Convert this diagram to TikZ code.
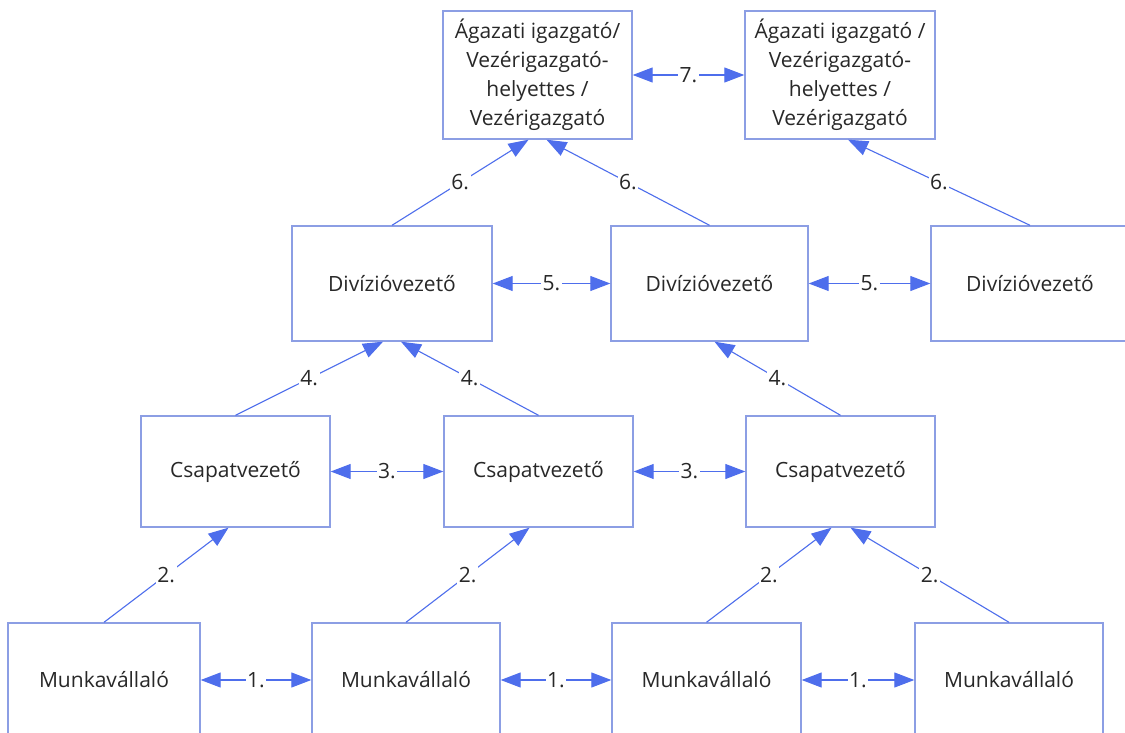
\documentclass[tikz,border=0pt]{standalone}
\usepackage{fontspec}
\setmainfont{Open Sans}
\usetikzlibrary{arrows.meta}
\definecolor{boxc}{RGB}{140,158,228}
\definecolor{arrc}{RGB}{78,110,236}
\definecolor{txt}{RGB}{40,40,40}
\begin{document}
\begin{tikzpicture}[x=1pt,y=-1pt,
  box/.style={draw=boxc, line width=1.4pt, rectangle, align=center, text=txt,
    font=\fontsize{21}{29}\selectfont, inner sep=0pt},
  conn/.style={draw=arrc, line width=1.1pt},
  lab/.style={fill=white, text=txt, inner sep=1.5pt, font=\fontsize{21}{24}\selectfont},
  >={Triangle[length=20pt,width=15pt]}]
\useasboundingbox (0,0) rectangle (1125,733);
\clip (0,0) rectangle (1125,733);
\fill[white] (0,0) rectangle (1125,733);
% top row
\node[box, minimum width=189pt, minimum height=128pt] (t1) at (537.5,75)
  {Ágazati igazgató/\\Vezérigazgató-\\helyettes /\\Vezérigazgató};
\node[box, minimum width=190pt, minimum height=128pt] (t2) at (840,75)
  {Ágazati igazgató /\\Vezérigazgató-\\helyettes /\\Vezérigazgató};
% division row
\node[box, minimum width=200pt, minimum height=115pt] (d1) at (392,283.5) {Divízióvezető};
\node[box, minimum width=197pt, minimum height=115pt] (d2) at (709.5,283.5) {Divízióvezető};
\node[box, minimum width=198pt, minimum height=115pt] (d3) at (1030,283.5) {Divízióvezető};
% team leader row
\node[box, minimum width=189pt, minimum height=111pt] (c1) at (235.5,471.5) {Csapatvezető};
\node[box, minimum width=189pt, minimum height=111pt] (c2) at (538.5,471.5) {Csapatvezető};
\node[box, minimum width=189pt, minimum height=111pt] (c3) at (840.5,471.5) {Csapatvezető};
% employee row
\node[box, minimum width=192pt, minimum height=114pt] (m1) at (104,680) {Munkavállaló};
\node[box, minimum width=188pt, minimum height=114pt] (m2) at (406,680) {Munkavállaló};
\node[box, minimum width=189pt, minimum height=114pt] (m3) at (706.5,680) {Munkavállaló};
\node[box, minimum width=188pt, minimum height=114pt] (m4) at (1009,680) {Munkavállaló};
% horizontal connectors
\draw[conn,<->] (t1) -- node[lab] {7.} (t2);
\draw[conn,<->] (d1) -- node[lab] {5.} (d2);
\draw[conn,<->] (d2) -- node[lab] {5.} (d3);
\draw[conn,<->] (c1) -- node[lab] {3.} (c2);
\draw[conn,<->] (c2) -- node[lab] {3.} (c3);
\draw[conn,<->] (m1) -- node[lab] {1.} (m2);
\draw[conn,<->] (m2) -- node[lab] {1.} (m3);
\draw[conn,<->] (m3) -- node[lab] {1.} (m4);
% diagonal connectors
\draw[conn,->] (d1.north) -- node[lab] {6.} ([xshift=-9pt]t1.south);
\draw[conn,->] (d2.north) -- node[lab] {6.} ([xshift=9pt]t1.south);
\draw[conn,->] (d3.north) -- node[lab] {6.} ([xshift=8pt]t2.south);
\draw[conn,->] (c1.north) -- node[lab] {4.} ([xshift=-9pt]d1.south);
\draw[conn,->] (c2.north) -- node[lab] {4.} ([xshift=9pt]d1.south);
\draw[conn,->] (c3.north) -- node[lab] {4.} ([xshift=5pt]d2.south);
\draw[conn,->] (m1.north) -- node[lab] {2.} ([xshift=-7pt]c1.south);
\draw[conn,->] (m2.north) -- node[lab] {2.} ([xshift=-9pt]c2.south);
\draw[conn,->] (m3.north) -- node[lab] {2.} ([xshift=-9pt]c3.south);
\draw[conn,->] (m4.north) -- node[lab] {2.} ([xshift=10pt]c3.south);
\end{tikzpicture}
\end{document}
